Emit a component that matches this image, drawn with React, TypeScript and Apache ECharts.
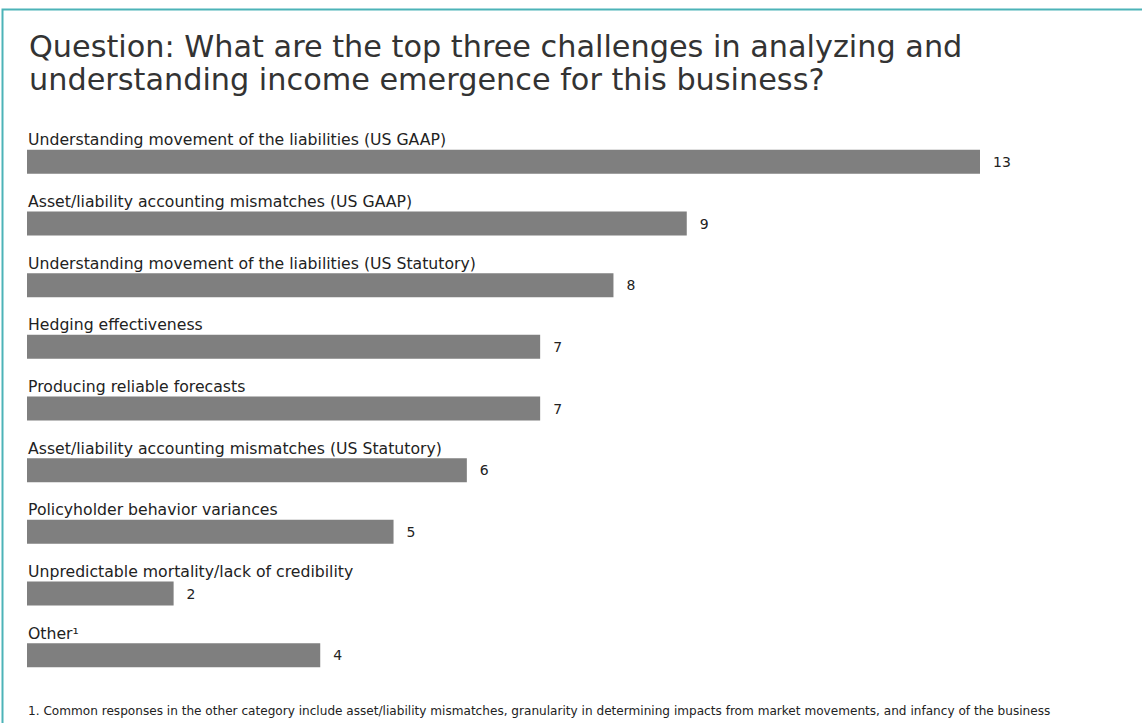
import React, { useEffect, useRef } from "react";
import * as echarts from "echarts";

const categories = [
  "Understanding movement of the liabilities (US GAAP)",
  "Asset/liability accounting mismatches (US GAAP)",
  "Understanding movement of the liabilities (US Statutory)",
  "Hedging effectiveness",
  "Producing reliable forecasts",
  "Asset/liability accounting mismatches (US Statutory)",
  "Policyholder behavior variances",
  "Unpredictable mortality/lack of credibility",
  "Other¹",
];
const values = [13, 9, 8, 7, 7, 6, 5, 2, 4];

const titleLines = [
  "Question: What are the top three challenges in analyzing and",
  "understanding income emergence for this business?",
];
const footnote =
  "1. Common responses in the other category include asset/liability mismatches, granularity in determining impacts from market movements, and infancy of the business";

export default function App() {
  const ref = useRef<HTMLDivElement>(null);
  useEffect(() => {
    document.body.style.margin = "0";
    const chart = echarts.init(ref.current!, null, { renderer: "svg" });
    const font = "'DejaVu Sans', sans-serif";
    chart.setOption({
      animation: false,
      backgroundColor: "#ffffff",
      grid: { left: 27, right: 162, top: 131, height: 555, containLabel: false },
      xAxis: { type: "value", min: 0, max: 13, show: false },
      yAxis: {
        type: "category",
        data: categories,
        inverse: true,
        show: false,
      },
      graphic: [
        {
          type: "rect",
          shape: { x: 2.5, y: 9.5, width: 1200, height: 800 },
          style: { fill: "none", stroke: "#4cb3b8", lineWidth: 2 },
          silent: true,
        },
        {
          type: "text",
          left: 29,
          top: 30,
          style: {
            text: titleLines.join("\n"),
            font: `30.3px ${font}`,
            lineHeight: 33,
            fill: "#333333",
          },
        },
        {
          type: "text",
          left: 28,
          top: 705,
          style: {
            text: footnote,
            font: `12.1px ${font}`,
            fill: "#222222",
          },
        },
      ],
      series: [
        {
          type: "bar",
          data: values,
          barWidth: 24,
          itemStyle: { color: "#7f7f7f" },
          label: {
            show: true,
            position: "right",
            distance: 13,
            fontFamily: font,
            fontSize: 14,
            color: "#222222",
          },
        },
        {
          type: "bar",
          data: values,
          barWidth: 24,
          barGap: "-100%",
          itemStyle: { color: "rgba(0,0,0,0)" },
          label: {
            show: true,
            position: [1, -18],
            formatter: "{b}",
            fontFamily: font,
            fontSize: 15.7,
            color: "#222222",
            align: "left",
            verticalAlign: "top",
          },
        },
      ],
    });
    return () => chart.dispose();
  }, []);
  return <div ref={ref} style={{ width: 1142, height: 723 }} />;
}
